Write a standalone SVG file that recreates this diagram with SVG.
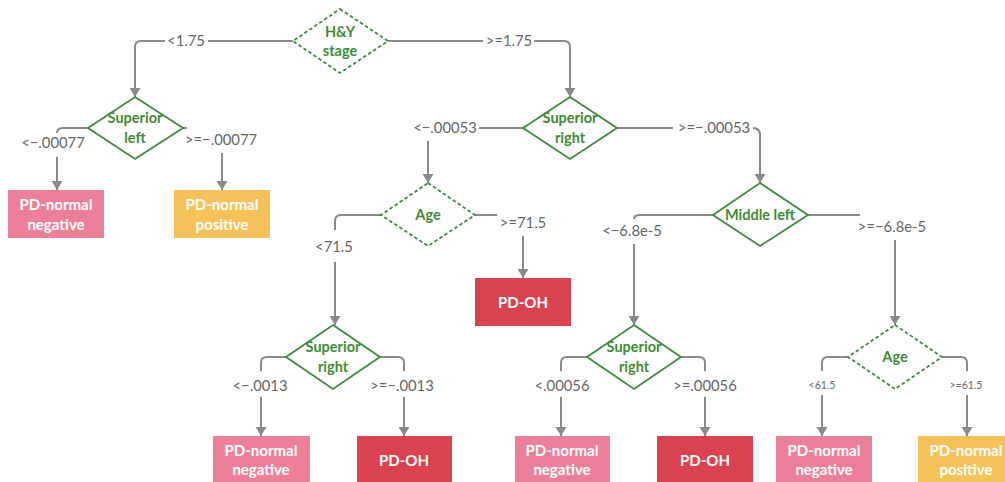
<svg xmlns="http://www.w3.org/2000/svg" width="1005" height="482" viewBox="0 0 1005 482">
<style>
.dec{fill:#fff;stroke:#3b8b3b;stroke-width:1.8}
.dash{stroke-dasharray:3.5 2.5}
.nt{font-family:Lato,"Liberation Sans",sans-serif;font-size:14.5px;font-weight:bold;fill:#3f8b36;text-anchor:middle}
.bt{font-family:Lato,"Liberation Sans",sans-serif;font-size:15px;font-weight:bold;fill:#fff;text-anchor:middle}
.lb{font-family:Lato,"Liberation Sans",sans-serif;font-size:14.8px;fill:#666;text-anchor:middle}
.sm{font-size:10.5px}
.c{fill:none;stroke:#8a8a8a;stroke-width:2}
.pink{fill:#ec8099}.yel{fill:#f4c259}.red{fill:#d9434f}
</style>
<defs>
<marker id="ah" markerUnits="userSpaceOnUse" markerWidth="12" markerHeight="12" refX="9" refY="5.5" orient="auto">
<path d="M0,0 L9,5.5 L0,11 z" fill="#8a8a8a"/>
</marker>
</defs>
<g id="connectors">
<path class="c" d="M293,41 H208 M165,41 H141 Q135,41 135,47 V97" marker-end="url(#ah)"/>
<path class="c" d="M388,41 H483 M534,41 H564 Q570,41 570,47 V97" marker-end="url(#ah)"/>
<path class="c" d="M88,128 H63 Q57,128 57,133 M57,157 V190" marker-end="url(#ah)"/>
<path class="c" d="M183,128 H187 M222,153 V190" marker-end="url(#ah)"/>
<path class="c" d="M523,128 H479 M428,141 V183" marker-end="url(#ah)"/>
<path class="c" d="M617,128 H673 M753,128 Q760,128 760,135 V183" marker-end="url(#ah)"/>
<path class="c" d="M381,215 H341 Q335,215 335,221 V230 M335,262 V325" marker-end="url(#ah)"/>
<path class="c" d="M475,215 H497 M523,236 V278" marker-end="url(#ah)"/>
<path class="c" d="M713,215 H640 Q634,215 634,219 M634,244 V325" marker-end="url(#ah)"/>
<path class="c" d="M808,215 H860 M895,240 V325" marker-end="url(#ah)"/>
<path class="c" d="M286,357 H267 Q261,357 261,363 V371 M261,397 V436" marker-end="url(#ah)"/>
<path class="c" d="M380,357 H398 Q404,357 404,363 V371 M404,397 V436" marker-end="url(#ah)"/>
<path class="c" d="M587,357 H567 Q561,357 561,363 V371 M561,397 V436" marker-end="url(#ah)"/>
<path class="c" d="M681,357 H699 Q705,357 705,363 V371 M705,397 V436" marker-end="url(#ah)"/>
<path class="c" d="M848,357 H828 Q822,357 822,363 V371 M822,395 V436" marker-end="url(#ah)"/>
<path class="c" d="M942,357 H961 Q967,357 967,363 V371 M967,395 V436" marker-end="url(#ah)"/>
<text class="lb" x="186" y="46">&lt;1.75</text>
<text class="lb" x="509" y="46">&gt;=1.75</text>
<text class="lb" x="53" y="148">&lt;−.00077</text>
<text class="lb" x="221" y="145">&gt;=−.00077</text>
<text class="lb" x="445" y="133">&lt;−.00053</text>
<text class="lb" x="714" y="133">&gt;=−.00053</text>
<text class="lb" x="334" y="252">&lt;71.5</text>
<text class="lb" x="523" y="228">&gt;=71.5</text>
<text class="lb" x="632" y="236">&lt;−6.8e-5</text>
<text class="lb" x="892" y="232">&gt;=−6.8e-5</text>
<text class="lb" x="260" y="391">&lt;−.0013</text>
<text class="lb" x="402" y="391">&gt;=−.0013</text>
<text class="lb" x="562" y="391">&lt;.00056</text>
<text class="lb" x="705" y="391">&gt;=.00056</text>
<text class="lb sm" x="822" y="389">&lt;61.5</text>
<text class="lb sm" x="966" y="389">&gt;=61.5</text>
</g>
<g id="hy-stage">
<polygon class="dec dash" points="340,9 388,41 340,73 293,41"/>
<text class="nt" x="340" y="37">H&amp;Y</text>
<text class="nt" x="340" y="56">stage</text>
</g>
<g id="superior-left">
<polygon class="dec" points="135,97 183,128 135,159 88,128"/>
<text class="nt" x="135" y="123">Superior</text>
<text class="nt" x="135" y="143">left</text>
</g>
<g id="superior-right-1">
<polygon class="dec" points="570,97 617,128 570,159 523,128"/>
<text class="nt" x="570" y="123">Superior</text>
<text class="nt" x="570" y="143">right</text>
</g>
<g id="age-1">
<polygon class="dec dash" points="428,183 475,215 428,246 381,215"/>
<text class="nt" x="428" y="220">Age</text>
</g>
<g id="middle-left">
<polygon class="dec" points="760,183 808,215 760,246 713,215"/>
<text class="nt" x="760" y="220">Middle left</text>
</g>
<g id="superior-right-2">
<polygon class="dec" points="333,325 380,357 333,389 286,357"/>
<text class="nt" x="333" y="352">Superior</text>
<text class="nt" x="333" y="372">right</text>
</g>
<g id="superior-right-3">
<polygon class="dec" points="634,325 681,357 634,389 587,357"/>
<text class="nt" x="634" y="352">Superior</text>
<text class="nt" x="634" y="372">right</text>
</g>
<g id="age-2">
<polygon class="dec dash" points="895,325 942,357 895,389 848,357"/>
<text class="nt" x="895" y="362">Age</text>
</g>
<g id="leaf-1">
<rect class="pink" x="8" y="190" width="96" height="48"/>
<text class="bt" x="56" y="210">PD-normal</text>
<text class="bt" x="56" y="230">negative</text>
</g>
<g id="leaf-2">
<rect class="yel" x="174" y="190" width="96" height="48"/>
<text class="bt" x="222" y="210">PD-normal</text>
<text class="bt" x="222" y="230">positive</text>
</g>
<g id="leaf-3">
<rect class="red" x="475" y="278" width="96" height="48"/>
<text class="bt" x="523" y="308">PD-OH</text>
</g>
<g id="leaf-4">
<rect class="pink" x="213" y="436" width="97" height="48"/>
<text class="bt" x="261" y="456">PD-normal</text>
<text class="bt" x="261" y="475">negative</text>
</g>
<g id="leaf-5">
<rect class="red" x="357" y="436" width="95" height="48"/>
<text class="bt" x="404" y="466">PD-OH</text>
</g>
<g id="leaf-6">
<rect class="pink" x="515" y="436" width="95" height="48"/>
<text class="bt" x="562" y="456">PD-normal</text>
<text class="bt" x="562" y="475">negative</text>
</g>
<g id="leaf-7">
<rect class="red" x="657" y="436" width="96" height="48"/>
<text class="bt" x="705" y="466">PD-OH</text>
</g>
<g id="leaf-8">
<rect class="pink" x="776" y="436" width="96" height="48"/>
<text class="bt" x="824" y="456">PD-normal</text>
<text class="bt" x="824" y="475">negative</text>
</g>
<g id="leaf-9">
<rect class="yel" x="918" y="436" width="96" height="48"/>
<text class="bt" x="966" y="456">PD-normal</text>
<text class="bt" x="966" y="475">positive</text>
</g>
</svg>
